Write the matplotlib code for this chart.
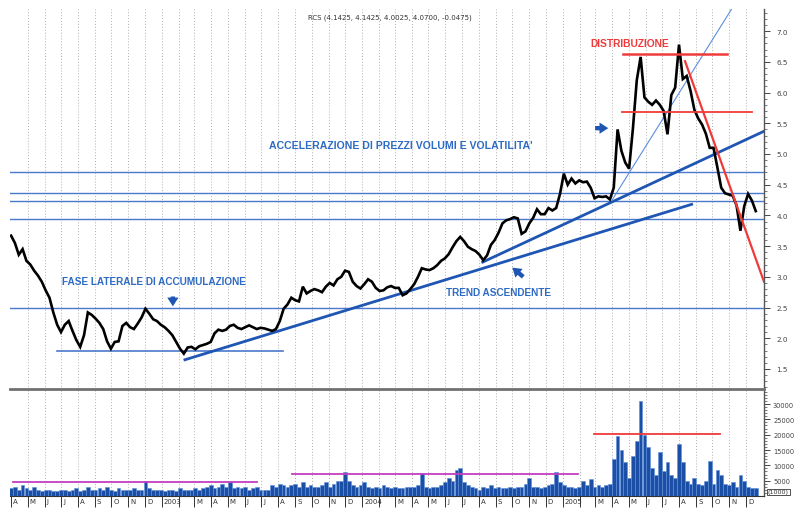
import matplotlib
matplotlib.use("Agg")
import matplotlib.pyplot as plt
import matplotlib.transforms as mtrans
import numpy as np
import pandas as pd

# ---------------- data ----------------
start_date = "2002-04-01"
price_close = [
    3.67, 3.55, 3.36, 3.45, 3.26, 3.20, 3.10, 3.02, 2.92, 2.78,
    2.66, 2.42, 2.22, 2.10, 2.22, 2.28, 2.12, 1.97, 1.86, 2.05,
    2.42, 2.38, 2.32, 2.25, 2.15, 1.95, 1.83, 1.94, 1.95, 2.20,
    2.25, 2.18, 2.15, 2.24, 2.34, 2.48, 2.40, 2.31, 2.28, 2.22,
    2.18, 2.12, 2.05, 1.94, 1.83, 1.75, 1.85, 1.86, 1.82, 1.87,
    1.89, 1.91, 1.94, 2.08, 2.14, 2.12, 2.14, 2.20, 2.22, 2.17,
    2.15, 2.18, 2.21, 2.18, 2.15, 2.17, 2.16, 2.14, 2.12, 2.15,
    2.28, 2.48, 2.55, 2.66, 2.62, 2.60, 2.84, 2.73, 2.77, 2.80,
    2.78, 2.75, 2.84, 2.90, 2.86, 2.96, 3.00, 3.10, 3.08, 2.92,
    2.85, 2.81, 2.88, 2.96, 2.92, 2.82, 2.77, 2.78, 2.83, 2.85,
    2.82, 2.82, 2.70, 2.73, 2.80, 2.88, 3.00, 3.14, 3.12, 3.11,
    3.14, 3.19, 3.26, 3.30, 3.37, 3.48, 3.58, 3.65, 3.58, 3.49,
    3.45, 3.42, 3.36, 3.27, 3.35, 3.52, 3.60, 3.72, 3.87, 3.92,
    3.94, 3.97, 3.95, 3.70, 3.74, 3.87, 3.96, 4.10, 4.02, 4.02,
    4.12, 4.08, 4.12, 4.35, 4.68, 4.50, 4.60, 4.52, 4.57, 4.54,
    4.55, 4.45, 4.28, 4.31, 4.30, 4.31, 4.26, 4.45, 5.40, 5.05,
    4.86, 4.76, 5.42, 6.20, 6.58, 5.92, 5.85, 5.80, 5.87, 5.80,
    5.70, 5.32, 5.96, 6.08, 6.78, 6.22, 6.27, 6.03, 5.72, 5.58,
    5.48, 5.33, 5.10, 5.10, 4.78, 4.45, 4.36, 4.34, 4.32, 4.16,
    3.75, 4.15, 4.35, 4.24, 4.07,
]
volume_k = [
    2.5, 3.0, 2.0, 3.5, 2.5, 2.0, 3.0, 2.0, 1.5, 2.0,
    2.0, 1.5, 1.5, 2.0, 1.8, 1.5, 2.0, 2.5, 1.5, 2.0,
    3.0, 2.0, 1.8, 2.5, 2.0, 3.0, 2.0, 1.5, 2.5, 2.0,
    2.0, 1.8, 2.5, 2.0, 2.0, 4.8, 2.5, 2.0, 1.8, 2.0,
    1.5, 2.0, 1.8, 1.5, 2.5, 2.0, 1.8, 2.0, 2.5, 2.0,
    2.5, 3.0, 3.5, 2.5, 3.0, 4.0, 3.0, 4.5, 2.5, 3.0,
    2.5, 3.0, 2.0, 2.5, 3.0, 2.0, 1.8, 2.0, 3.5, 3.0,
    4.0, 3.5, 3.0, 3.5, 4.0, 3.0, 4.5, 3.0, 3.5, 3.0,
    3.0, 3.5, 4.5, 3.0, 4.0, 5.0, 5.0, 7.8, 5.0, 3.5,
    3.0, 3.5, 4.5, 3.0, 2.5, 3.0, 2.5, 3.5, 3.0, 2.5,
    3.0, 2.5, 2.5, 3.0, 3.0, 3.0, 3.5, 7.5, 3.0, 2.5,
    3.0, 3.0, 3.5, 4.5, 6.0, 5.0, 8.5, 9.0, 4.5, 3.5,
    3.0, 2.5, 2.0, 3.0, 2.5, 3.5, 2.5, 3.0, 2.5, 2.5,
    3.0, 2.5, 3.0, 3.0, 4.0, 6.0, 3.0, 3.0, 2.5, 3.0,
    3.5, 4.0, 7.7, 4.5, 3.5, 3.0, 3.0, 2.5, 3.0, 5.0,
    3.5, 5.5, 3.0, 3.5, 3.0, 3.5, 4.0, 12.0, 19.5, 15.0,
    11.0, 6.0, 13.0, 18.0, 31.0, 20.0, 16.0, 9.0, 7.0, 14.5,
    8.0, 11.0, 7.0, 6.0, 17.0, 11.0, 5.0, 4.0, 6.0, 4.0,
    3.5, 5.0, 11.5, 4.0, 8.5, 7.0, 4.0, 3.5, 4.5, 3.0,
    7.0, 5.0, 3.0, 2.5, 2.5,
]
support_levels = [4.71, 4.37, 4.23, 3.94, 2.50]
lateral_support = (["2002-06-23", "2003-08-09"], [1.79, 1.79])
trend_long = (["2003-02-12", "2005-08-24"], [1.65, 4.18])
trend_mid = (["2004-08-08", "2006-01-03"], [3.24, 5.37])
trend_accel = (["2005-04-01", "2005-11-05"], [4.25, 7.36])
red_top = (["2005-04-21", "2005-10-27"], [6.63, 6.63])
red_mid = (["2005-04-19", "2005-12-12"], [5.69, 5.69])
red_down = (["2005-08-12", "2006-01-03"], [6.51, 2.92])
vol_line_1 = (["2002-04-05", "2003-06-23"], [4.5, 4.5])
vol_line_2 = (["2003-08-26", "2005-01-28"], [7.3, 7.3])
vol_line_red = (["2005-02-27", "2005-10-14"], [20.3, 20.3])
month_letters = ["J", "F", "M", "A", "M", "J", "J", "A", "S", "O", "N", "D"]
title_text = "RCS (4.1425, 4.1425, 4.0025, 4.0700, -0.0475)"

# ---------------- styling ----------------
BLUE_H = "#4a78cc"
BLUE_T = "#1f56b4"
BLUE_TXT = "#2e6bc4"
RED = "#f03a3a"
MAG = "#c43ec4"
VOLC = "#1a4fa5"

dates = pd.date_range(start_date, periods=len(price_close), freq="7D")
xl = (pd.Timestamp("2002-03-30"), pd.Timestamp("2006-01-03"))

fig = plt.figure(figsize=(7.96, 5.10), dpi=100)
axp = fig.add_axes([10/796, 1-390/510, 754/796, 380/510])
axv = fig.add_axes([10/796, 1-497/510, 754/796, 107/510], sharex=axp)

def D(lst):
    return pd.to_datetime(lst)

# price panel
axp.plot(dates, price_close, color="black", lw=1.9, solid_joinstyle="miter", zorder=5)
for lvl in support_levels:
    axp.axhline(lvl, color=BLUE_H, lw=1.0, zorder=3)
axp.plot(D(lateral_support[0]), lateral_support[1], color=BLUE_H, lw=1.2, zorder=3)
axp.plot(D(trend_long[0]), trend_long[1], color=BLUE_T, lw=2.0, zorder=4)
axp.plot(D(trend_mid[0]), trend_mid[1], color=BLUE_T, lw=2.0, zorder=4)
axp.plot(D(trend_accel[0]), trend_accel[1], color="#5b8ee0", lw=0.8, zorder=4)
axp.plot(D(red_top[0]), red_top[1], color=RED, lw=1.8, zorder=6)
axp.plot(D(red_mid[0]), red_mid[1], color=RED, lw=1.3, zorder=6)
axp.plot(D(red_down[0]), red_down[1], color=RED, lw=1.6, zorder=6)

tk = dict(fontweight="bold", family="Liberation Sans", ha="center", va="center")
axp.text(pd.Timestamp("2005-05-04"), 6.80, "DISTRIBUZIONE", color=RED, zorder=7, fontsize=7.4, **tk)
axp.text(pd.Timestamp("2004-03-12"), 5.145, "ACCELERAZIONE DI PREZZI VOLUMI E VOLATILITA'",
         color=BLUE_TXT, zorder=7, fontsize=7.6, **tk)
axp.text(pd.Timestamp("2002-12-17"), 2.93, "FASE LATERALE DI ACCUMULAZIONE", color=BLUE_TXT,
         zorder=7, fontsize=7.2, **tk)
axp.text(pd.Timestamp("2004-09-05"), 2.75, "TREND ASCENDENTE", color=BLUE_TXT, zorder=7,
         fontsize=7.2, **tk)

arr = dict(arrowstyle="simple,head_width=0.9,head_length=0.7,tail_width=0.35",
           color=BLUE_T, lw=0, mutation_scale=9, shrinkA=0, shrinkB=0)
axp.annotate("", xy=(pd.Timestamp("2003-01-21"), 2.52), xytext=(pd.Timestamp("2003-01-21"), 2.68),
             arrowprops=arr, zorder=7)
axp.annotate("", xy=(pd.Timestamp("2004-10-01"), 3.15), xytext=(pd.Timestamp("2004-10-21"), 3.00),
             arrowprops=arr, zorder=7)
axp.annotate("", xy=(pd.Timestamp("2005-03-25"), 5.42), xytext=(pd.Timestamp("2005-03-01"), 5.42),
             arrowprops=arr, zorder=7)

axp.set_ylim(1.174, 7.36)
axp.set_xlim(*xl)

# volume panel
axv.bar(dates, volume_k, width=6.8, color=VOLC, edgecolor="#5f8fdc", linewidth=0.4, zorder=3)
axv.plot(D(vol_line_1[0]), vol_line_1[1], color=MAG, lw=1.3, zorder=4)
axv.plot(D(vol_line_2[0]), vol_line_2[1], color=MAG, lw=1.3, zorder=4)
axv.plot(D(vol_line_red[0]), vol_line_red[1], color=RED, lw=1.3, zorder=4)
axv.set_ylim(0, 34.9)

# month grid / ticks
months = pd.date_range("2002-04-01", "2005-12-01", freq="MS")
labels = []
for m in months:
    if m.month == 1:
        labels.append(str(m.year))
    elif m.month == 2:
        labels.append("")
    else:
        labels.append(month_letters[m.month - 1])

for ax in (axp, axv):
    for m in months[1:]:
        ax.axvline(m, color="#b0b0b0", lw=0.7, ls=(0, (1, 2)), zorder=1)
    for s in ("left", "top", "bottom"):
        ax.spines[s].set_visible(False)
    ax.spines["right"].set_color("#555555")
    ax.spines["right"].set_linewidth(1.0)
    ax.yaxis.tick_right()
    ax.tick_params(axis="y", which="major", direction="out", length=4, width=0.7,
                   labelsize=5.2, colors="#444444", pad=5)
    ax.tick_params(axis="y", which="minor", direction="out", length=2, width=0.5, colors="#444444")

axp.set_yticks(np.arange(1.5, 7.01, 0.5))
axp.set_yticklabels([f"{v:.1f}" for v in np.arange(1.5, 7.01, 0.5)])
axp.set_yticks(np.arange(1.2, 7.35, 0.1), minor=True)
axp.tick_params(axis="x", which="both", bottom=False, labelbottom=False)

axv.set_yticks(np.arange(5, 30.1, 5))
axv.set_yticklabels([f"{int(v*1000)}" for v in np.arange(5, 30.1, 5)])
axv.set_yticks(np.arange(1, 34.5, 1), minor=True)
axv.tick_params(axis="y", which="major", labelsize=4.8, pad=2.5)
axv.spines["bottom"].set_visible(True)
axv.spines["bottom"].set_color("#333333")
axv.set_xticks(months)
axv.set_xticklabels(labels)
axv.xaxis.set_minor_locator(plt.NullLocator())
axv.tick_params(axis="x", direction="out", length=8, width=0.7, labelsize=5.0,
                colors="#333333", pad=-6.5)
off = mtrans.ScaledTranslation(2/100, 0, fig.dpi_scale_trans)
for lab in axv.get_xticklabels():
    lab.set_ha("left")
    lab.set_transform(lab.get_transform() + off)

# separator between panels
fig.add_artist(plt.Line2D([10/796, 764/796], [1-390/510, 1-390/510], color="#707070", lw=2.0,
                          transform=fig.transFigure))
fig.text(768/796, 1-493/510, "(1000)", fontsize=4.6, color="#333333", va="center", ha="left",
         bbox=dict(boxstyle="square,pad=0.15", fc="white", ec="#333333", lw=0.6))
fig.text(390/796, 1-18/510, title_text, fontsize=5, color="#333333", ha="center", va="center")

fig.savefig("out.png", dpi=100)
